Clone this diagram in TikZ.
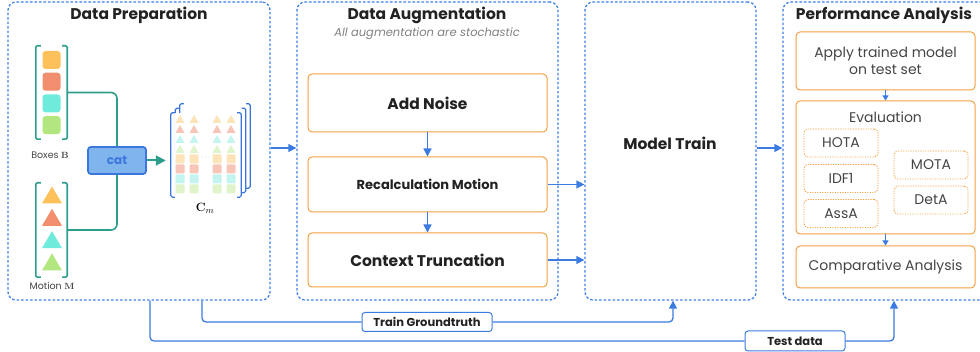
\documentclass[tikz,border=0pt]{standalone}
\usepackage[no-math]{fontspec}
\setmainfont{Poppins}
\usetikzlibrary{positioning, arrows.meta, calc}
\definecolor{pblue}{HTML}{3F7FE6}
\definecolor{fblue}{HTML}{3B7BE2}
\definecolor{porange}{HTML}{F5A040}
\definecolor{tgreen}{HTML}{2E9E8C}
\definecolor{cblue}{HTML}{3A76DC}
\definecolor{cfill}{HTML}{80B4EC}
\definecolor{vyel}{HTML}{FCC15A}
\definecolor{vsal}{HTML}{F08E6E}
\definecolor{vcyn}{HTML}{6FEBDC}
\definecolor{vgrn}{HTML}{B2E67E}
\definecolor{pyel}{HTML}{FCE3B8}
\definecolor{psal}{HTML}{F7C6B8}
\definecolor{pcyn}{HTML}{C4F4EF}
\definecolor{pgrn}{HTML}{DFF4CB}
\definecolor{txtdark}{HTML}{222222}
\definecolor{txtgray}{HTML}{444444}
\definecolor{txtlight}{HTML}{808080}

\begin{document}
\begin{tikzpicture}[x=1pt, y=-1pt,
          panel/.style={draw=pblue, line width=1.3pt, dash pattern=on 2.6pt off 1.9pt, rounded corners=8pt, minimum width=#1, minimum height=298pt},
          ttl/.style={font=\fontsize{15.5}{18}\selectfont\bfseries, text=txtdark},
          obox/.style={draw=porange, line width=1pt, rounded corners=4pt, fill=white, minimum width=239pt, text=txtdark},
          pbox/.style={draw=porange, line width=1pt, rounded corners=4pt, minimum width=179pt, text=txtgray, font=\fontsize{14}{17}\selectfont, align=center},
          dbox/.style={draw=porange, line width=0.9pt, dash pattern=on 1.2pt off 1.3pt, rounded corners=4pt, minimum width=74pt, minimum height=28pt, text=txtgray, font=\fontsize{14}{16}\selectfont},
          flow/.style={draw=fblue, line width=1.3pt, -{Triangle[length=8pt, width=8pt]}},
          sflow/.style={draw=fblue, line width=1pt, -{Triangle[length=5pt, width=6pt]}},
          tflow/.style={draw=fblue, line width=1.3pt, rounded corners=4pt},
          tag/.style={draw=fblue, line width=1pt, rounded corners=3pt, fill=white, font=\fontsize{11.5}{13}\selectfont\bfseries, text=txtdark, minimum height=19pt},
          brk/.style={draw=#1, line width=1.6pt, rounded corners=1.5pt},
          link/.style={draw=tgreen, line width=1.6pt, rounded corners=6pt},
          lbl/.style={font=\fontsize{9.5}{11}\selectfont, text=txtgray},
          cmlayer/.style={minimum width=70pt, minimum height=84pt, inner sep=0pt}]
        \useasboundingbox (0,0) rectangle (980,352);
        % panels
        \node[panel=262pt] (prep) at (139,151) {};
        \node[panel=261pt] (aug) at (427.5,151) {};
        \node[panel=171pt] (train) at (670.5,151) {};
        \node[panel=207pt] (perf) at (886.5,151) {};
        \node[ttl] (preptl) at (139,15) {Data Preparation};
        \node[ttl] (augtl) at (427,15) {Data Augmentation};
        \node[font=\fontsize{11.5}{13}\selectfont\itshape, text=txtlight] (augsub) at (427,34) {All augmentation are stochastic};
        \node[ttl] (traintl) at (670,143) {Model Train};
        \node[ttl] (perftl) at (884,15) {Performance Analysis};
        % boxes and motion vectors
        \node[minimum width=31pt, minimum height=93pt, inner sep=0pt] (bvec) at (51.5,92.5) {};
        \node[minimum width=31pt, minimum height=94pt, inner sep=0pt] (mvec) at (51.5,230) {};
        \foreach \n in {bvec,mvec}
          \draw[brk=tgreen] ([xshift=5pt]\n.north west) -- (\n.north west) -- (\n.south west) -- ([xshift=5pt]\n.south west)
                            ([xshift=-5pt]\n.north east) -- (\n.north east) -- (\n.south east) -- ([xshift=-5pt]\n.south east);
        \foreach \c [count=\i from 0] in {vyel,vsal,vcyn,vgrn} {
          \fill[\c, rounded corners=3pt] (42.5,{51+21.7*\i}) rectangle ++(18,18);
          \fill[\c] (42,{203.5+22.3*\i}) -- (62,{203.5+22.3*\i}) -- (52,{186.5+22.3*\i}) -- cycle;
        }
        \node[lbl] (blbl) at (50,155) {Boxes $\mathbf{B}$};
        \node[lbl] (mlbl) at (52,286) {Motion $\mathbf{M}$};
        \node[draw=cblue, fill=cfill, line width=1.8pt, rounded corners=3pt, minimum width=58pt, minimum height=27pt, text=cblue, font=\fontsize{12}{14}\selectfont\bfseries] (cat) at (117,160.5) {cat};
        \draw[link] (bvec.east) -| (cat.north);
        \draw[link] (mvec.east) -| (cat.south);
        % stacked C_m
        \node[cmlayer] (cm2) at (215,146) {};
        \node[cmlayer] (cm1) at (210.5,150.5) {};
        \foreach \n in {cm2,cm1}
          \draw[brk=cblue, line width=1.2pt] ([xshift=4pt]\n.north west) -- (\n.north west) -- (\n.south west) -- ([xshift=4pt]\n.south west)
                                             ([xshift=-4pt]\n.north east) -- (\n.north east) -- (\n.south east) -- ([xshift=-4pt]\n.south east);
        \node[cmlayer, fill=white] (cm) at (206,155) {};
        \draw[brk=cblue, line width=1.2pt] ([xshift=4pt]cm.north west) -- (cm.north west) -- (cm.south west) -- ([xshift=4pt]cm.south west)
                                           ([xshift=-4pt]cm.north east) -- (cm.north east) -- (cm.south east) -- ([xshift=-4pt]cm.south east);
        \foreach \x in {180,194,217,231} {
          \foreach \c [count=\r from 0] in {pyel,psal,pcyn,pgrn} {
            \fill[\c] ({\x-4.5},{123+10*\r}) -- ({\x+4.5},{123+10*\r}) -- (\x,{115+10*\r}) -- cycle;
            \fill[\c, rounded corners=1pt] ({\x-4.5},{154.5+10*\r}) rectangle ++(9,9);
          }
        }
        \node[text=pcyn!60!gray, font=\fontsize{8}{8}\selectfont] (cmdots) at (205.5,158) {$\cdots$};
        \node[font=\fontsize{13}{15}\selectfont] (cmlbl) at (205,208) {$\mathbf{C}_m$};
        \draw[tgreen, line width=2pt, -{Triangle[length=10pt, width=10pt]}, shorten >=5pt] (cat.east) -- (cat.east -| cm.west);
        % augmentation steps
        \node[obox, minimum height=58pt, font=\fontsize{15.5}{18}\selectfont\bfseries] (noise) at (427.5,103) {Add Noise};
        \node[obox, minimum height=55pt, font=\fontsize{13}{15}\selectfont\bfseries, below=24pt of noise] (recalc) {Recalculation Motion};
        \node[obox, minimum height=54pt, font=\fontsize{15.5}{18}\selectfont\bfseries, below=20pt of recalc] (trunc) {Context Truncation};
        \draw[flow] (noise) -- (recalc);
        \draw[flow] (recalc) -- (trunc);
        \draw[flow] (recalc.east) -- (recalc.east -| train.west);
        \draw[flow] (trunc.east) -- (trunc.east -| train.west);
        \draw[flow] ([yshift=3pt]prep.east) -- ([yshift=3pt]aug.west);
        \draw[flow] ([yshift=3pt]train.east) -- ([yshift=3pt]perf.west);
        % performance analysis
        \node[pbox, minimum height=58pt] (apply) at (885.5,61) {Apply trained model\\on test set};
        \node[pbox, minimum height=133pt] (eval) at (885.5,167.5) {};
        \node[text=txtgray, font=\fontsize{14}{16}\selectfont] (evaltl) at (885.5,117) {Evaluation};
        \node[pbox, minimum height=42pt] (comp) at (885.5,267) {Comparative Analysis};
        \draw[sflow] (apply) -- (eval);
        \draw[sflow] (eval) -- (comp);
        \node[dbox] (hota) at (841,143) {HOTA};
        \node[dbox] (idf) at (841,178.5) {IDF1};
        \node[dbox] (assa) at (841,213.5) {AssA};
        \node[dbox] (mota) at (931,165) {MOTA};
        \node[dbox] (deta) at (931,200) {DetA};
        % bottom data paths
        \node[tag, minimum width=130pt] (gt) at (427,322) {Train Groundtruth};
        \node[tag, minimum width=100pt, minimum height=20pt] (test) at (795,341) {Test data};
        \draw[tflow] ([xshift=63pt]prep.south) |- (gt.west);
        \draw[tflow, -{Triangle[length=8pt, width=8pt]}] (gt.east) -| ([xshift=2.5pt]train.south);
        \draw[tflow] ([xshift=11pt]prep.south) |- (test.west);
        \draw[tflow, -{Triangle[length=8pt, width=8pt]}] (test.east) -| ([xshift=7.5pt]perf.south);
      \end{tikzpicture}
\end{document}
